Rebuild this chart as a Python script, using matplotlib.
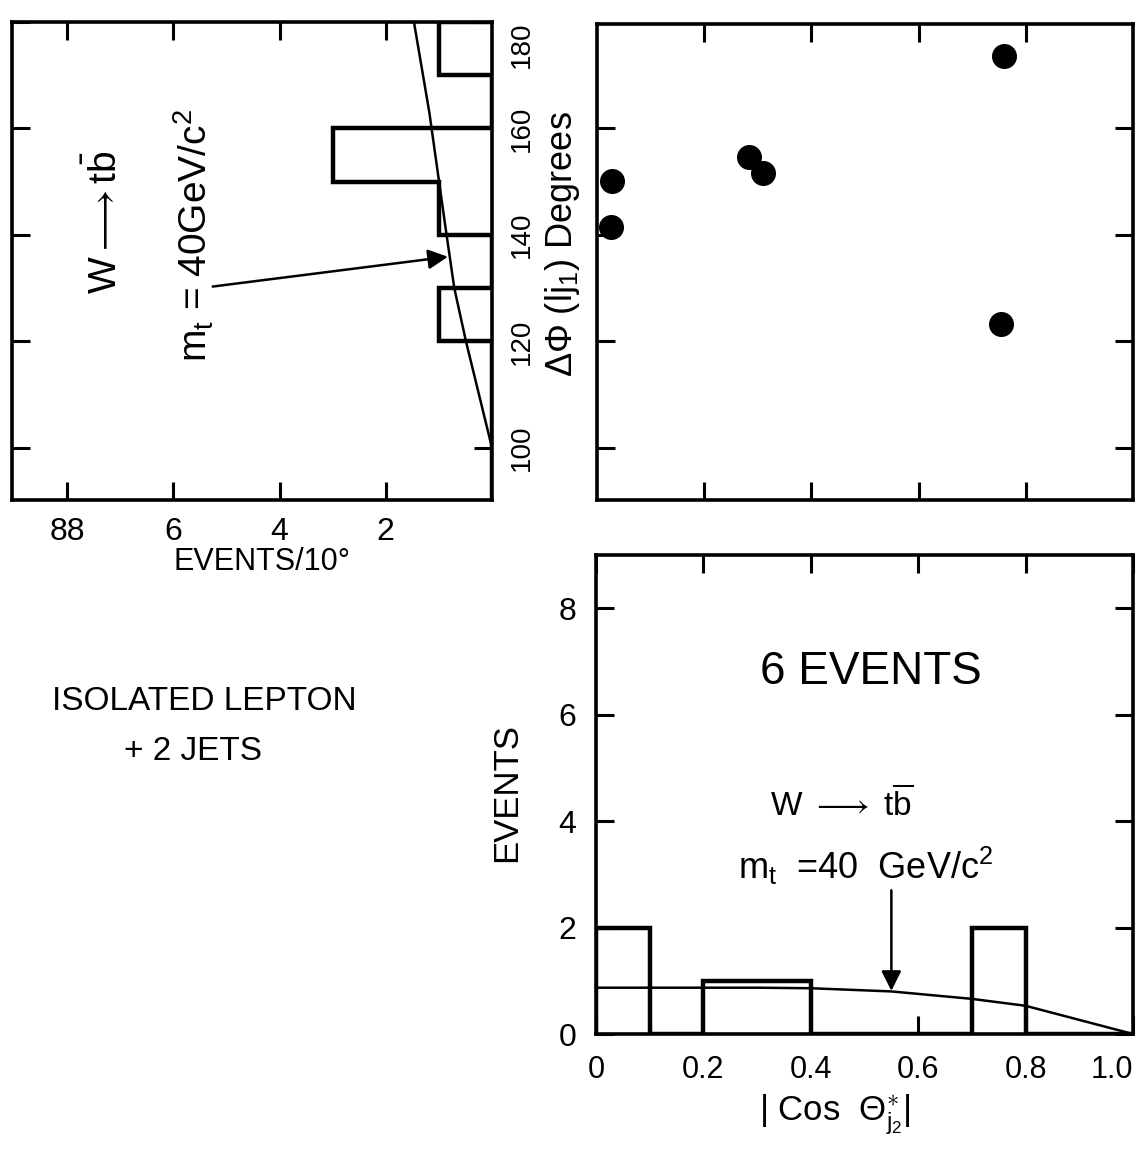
import matplotlib
matplotlib.use('Agg')
import matplotlib.pyplot as plt

# ---------------- data ----------------
# top-left: Delta-phi(l j1) distribution, events per 10 degrees
dphi_edges = [90, 100, 110, 120, 130, 140, 150, 160, 170, 180]
dphi_counts = [0, 0, 0, 1, 0, 1, 3, 0, 1]
# W -> t bbar, m_t = 40 GeV/c^2 expectation (degrees, events/10deg)
dphi_curve_deg = [100, 120, 130, 141, 163, 180]
dphi_curve_evt = [0.0, 0.49, 0.71, 0.87, 1.18, 1.47]
dphi_xticks = [8, 6, 4, 2]
dphi_xticklabels = ['88', '6', '4', '2']
dphi_yticks = [100, 120, 140, 160, 180]

# top-right: scatter of |cos theta*_j2| vs delta-phi
scat_cos = [0.028, 0.026, 0.284, 0.309, 0.760, 0.753]
scat_dphi = [150.2, 141.4, 154.7, 151.7, 173.5, 123.3]

# bottom-right: |cos theta*_j2| distribution
cos_edges = [0.0, 0.1, 0.2, 0.3, 0.4, 0.5, 0.6, 0.7, 0.8, 0.9, 1.0]
cos_counts = [2, 0, 1, 1, 0, 0, 0, 2, 0, 0]
cos_curve_x = [0.0, 0.3, 0.4, 0.55, 0.7, 0.8, 1.0]
cos_curve_y = [0.87, 0.87, 0.86, 0.80, 0.66, 0.53, 0.0]
cos_xticks = [0, 0.2, 0.4, 0.6, 0.8, 1.0]
cos_xticklabels = ['0', '0.2', '0.4', '0.6', '0.8', '1.0']
cos_yticks = [0, 2, 4, 6, 8]

# ---------------- style ----------------
plt.rcParams['font.family'] = ['Liberation Sans', 'DejaVu Sans']
plt.rcParams['mathtext.fontset'] = 'custom'
plt.rcParams['mathtext.rm'] = 'Liberation Sans'
plt.rcParams['mathtext.it'] = 'Liberation Sans'
plt.rcParams['mathtext.bf'] = 'Liberation Sans'

W, H = 1145, 1161
fig = plt.figure(figsize=(W / 100, H / 100), dpi=100)


def box(l, t, r, b):
    return [l / W, 1 - b / H, (r - l) / W, (b - t) / H]


def ftext(x, y, s, **kw):
    fig.text(x / W, 1 - y / H, s, ha='center', va='center', **kw)


SPW = 2.6
TKL = 13
TKW = 2.2
LW_H = 3.2
LW_C = 1.8
TICKFS = 22


def style(ax):
    for sp in ax.spines.values():
        sp.set_linewidth(SPW)
    ax.tick_params(direction='in', length=TKL, width=TKW,
                   top=True, bottom=True, left=True, right=True)


# ---- top-left ----
ax1 = fig.add_axes(box(12, 22, 492, 500))
style(ax1)
ax1.stairs(dphi_counts, dphi_edges, orientation='horizontal', baseline=0,
           color='k', lw=LW_H)
ax1.plot(dphi_curve_evt, dphi_curve_deg, color='k', lw=LW_C)
ax1.set_xlim(9.04, 0)
ax1.set_ylim(90.2, 180)
ax1.set_xticks(dphi_xticks)
ax1.set_xticklabels(dphi_xticklabels)
ax1.set_yticks(dphi_yticks)
ax1.set_yticklabels([str(v) for v in dphi_yticks])
ax1.tick_params(axis='x', labelsize=23, pad=12)
ax1.tick_params(axis='y', labelleft=False, labelright=True, labelrotation=90,
                labelsize=20, pad=12)
ylabs = ax1.get_yticklabels()
for lab in ylabs:
    lab.set_va('center')
ylabs[-1].set_va('top')
ax1.annotate('', xy=(0.83, 135.9), xytext=(5.26, 130.3),
             arrowprops=dict(arrowstyle='-|>', color='k', lw=1.8,
                             mutation_scale=30, shrinkA=0, shrinkB=0))
ftext(105, 222, r'W$\longrightarrow$t$\bar{\mathrm{b}}$', fontsize=28, rotation=90)
ftext(194, 235, r'm$_{\mathrm{t}}$ = 40GeV/c$^{2}$', fontsize=28, rotation=90)
ftext(262, 562, 'EVENTS/10°', fontsize=22)

# ---- top-right ----
ax2 = fig.add_axes(box(597, 24, 1133, 500))
style(ax2)
ax2.plot(scat_cos, scat_dphi, 'o', color='k', ms=17)
ax2.set_xlim(0, 1)
ax2.set_ylim(90.2, 179.6)
ax2.set_xticks([0.2, 0.4, 0.6, 0.8])
ax2.set_yticks([100, 120, 140, 160])
ax2.tick_params(labelleft=False, labelbottom=False)
ftext(562, 244, r'$\Delta\Phi$ (l$\mathrm{j}_{1}$) Degrees', fontsize=26, rotation=90)

# ---- bottom-right ----
ax3 = fig.add_axes(box(596, 555, 1133, 1034))
style(ax3)
ax3.stairs(cos_counts, cos_edges, baseline=0, color='k', lw=LW_H)
ax3.plot(cos_curve_x, cos_curve_y, color='k', lw=LW_C)
ax3.set_xlim(0, 1)
ax3.set_ylim(0, 9)
ax3.set_xticks(cos_xticks)
ax3.set_xticklabels(cos_xticklabels)
ax3.set_yticks(cos_yticks)
ax3.set_yticklabels([str(v) for v in cos_yticks])
ax3.tick_params(axis='x', labelsize=TICKFS, pad=15)
ax3.tick_params(axis='y', labelsize=23, pad=14)
xlabs = ax3.get_xticklabels()
xlabs[-1].set_ha('right')
ax3.annotate('', xy=(0.55, 0.81), xytext=(0.55, 2.7),
             arrowprops=dict(arrowstyle='-|>', color='k', lw=1.8,
                             mutation_scale=30, shrinkA=0, shrinkB=0))
ftext(871, 672, '6 EVENTS', fontsize=33)
ftext(842, 805, r'W $\longrightarrow$ t$\overline{\mathrm{b}}$', fontsize=24)
ftext(866, 866, r'm$_{\mathrm{t}}$  =40  GeV/c$^{2}$', fontsize=26)
ftext(507, 792, 'EVENTS', fontsize=25, rotation=90)
ftext(835, 1115, r'| Cos  $\Theta^{\ast}_{\mathrm{j}_2}$|', fontsize=25)

# ---- left text ----
ftext(204, 702, 'ISOLATED LEPTON', fontsize=24)
ftext(193, 751, '+ 2 JETS', fontsize=24)

fig.savefig('out.png', dpi=100)
